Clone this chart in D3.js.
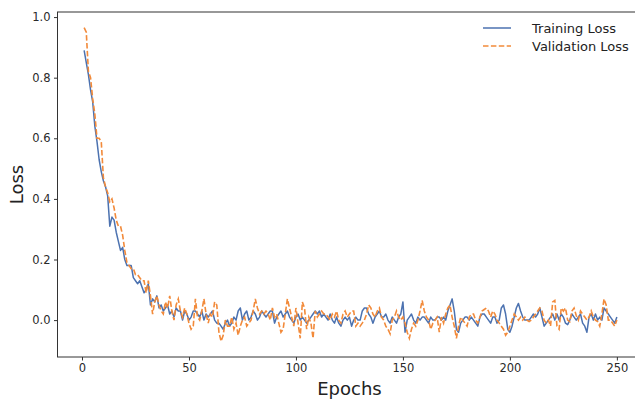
<!DOCTYPE html>
<html>
<head>
<meta charset="utf-8">
<script src="https://cdn.jsdelivr.net/npm/d3@7"></script>
<style>
  body { margin: 0; background: #fff; }
  svg { display: block; font-family: "DejaVu Sans", sans-serif; }
</style>
</head>
<body>
<svg id="drawing_region"></svg>
<script>
// values, epochs 1..250
const trainLoss = [
  .89, .85, .81, .76, .72, .64, .59, .53, .49, .46,
  .44, .41, .31, .34, .33, .29, .26, .23, .24, .20,
  .18, .18, .18, .14, .13, .12, .13, .11, .09, .10,
  .12, .05, .07, .06, .08, .04, .05, .03, .04, .05,
  .02, .03, .01, .04, .03, .03, .00, .03, .02, .00,
  .01, .03, .03, .02, .01, .03, .00, .02, .01, .02,
  .03, .00, -.01, -.01, -.02, -.03, -.01, .00, -.02, -.01,
  .01, .00, .03, .04, .00, .02, .03, .00, .01, .03,
  .02, .00, .01, .03, .02, .01, .02, .03, .03, -.01,
  .01, .02, .03, .01, .02, .03, .01, .00, -.01, .01,
  .02, .00, .01, .00, -.01, .00, .01, .02, .03, .02,
  .03, .01, .02, .01, .00, .02, .00, -.01, .01, -.01,
  -.02, .00, .01, .00, .01, -.02, .00, .01, .00, .00,
  .03, .04, .04, .02, .01, -.01, .01, .02, .03, .01,
  .01, .02, .00, -.01, .01, .00, -.01, .01, .02, .06,
  -.04, .00, .01, .02, .00, -.01, .01, .00, .01, .01,
  .00, -.01, .01, .00, .00, .01, .01, .00, .01, .00,
  .03, .05, .07, .03, -.03, -.04, -.01, .00, .01, .01,
  .00, .01, .00, -.01, -.02, .01, .02, .02, .01, .00,
  -.01, .01, .01, -.01, .00, .04, .05, .02, -.03, -.04,
  -.02, .01, .04, .055, .03, .01, .00, .00, .00, .01,
  .02, .01, .02, .04, .01, -.02, -.01, .00, .01, .02,
  .00, .02, .00, .02, .01, -.01, -.015, .00, .02, .01,
  .00, .01, .02, -.01, -.02, -.04, .01, .02, .00, .02,
  .00, .01, .00, .04, .03, .02, .01, .00, -.01, .01
];
const valLoss = [
  .965, .95, .82, .80, .73, .68, .60, .60, .59, .47,
  .44, .42, .39, .40, .37, .33, .31, .31, .28, .23,
  .19, .18, .17, .17, .15, .15, .14, .13, .13, .09,
  .13, .08, .02, .06, .08, .05, .03, .02, .06, .04,
  .08, .03, .00, .05, .07, .03, .01, .04, .02, -.01,
  -.03, -.02, .07, .01, .00, .03, .07, .02, -.01, .02,
  .01, .06, .05, -.04, -.07, -.05, .00, -.02, -.02, .01,
  -.03, -.01, -.05, -.02, .00, .01, -.02, -.01, .00, .03,
  .07, .04, .02, .03, .02, .03, .02, .00, .04, .01,
  .02, -.01, -.04, -.03, .02, .07, .04, .01, -.02, .04,
  -.01, -.06, .06, .04, -.03, .01, -.01, -.06, .03, .01,
  .02, .03, .02, .02, .01, .00, .02, .01, .03, .00,
  -.01, .02, .03, .01, .02, .03, .03, -.02, -.01, -.02,
  -.01, .00, .02, .05, .04, .02, .01, .03, .04, .01,
  .00, -.02, -.03, -.045, .00, .01, .03, .01, .00, .01,
  -.01, -.04, -.06, -.03, -.01, -.02, .00, .03, .065, .03,
  .01, .00, -.03, -.01, .00, .01, -.04, .01, -.01, .02,
  .04, .05, .01, -.02, -.06, -.02, .01, .00, -.01, -.02,
  .01, .02, .02, .00, -.01, .01, .03, .035, .04, .03,
  .01, .03, .02, .00, -.01, -.02, -.03, -.05, -.04, -.02,
  .00, .02, .01, .00, .01, .00, .01, .00, -.005, .00,
  .01, .02, .03, .04, .03, .00, -.01, .00, -.02, .06,
  .065, -.02, -.03, .04, .03, .04, .00, -.005, .03, .04,
  .015, .00, .03, .02, .01, .00, .01, .03, .01, .00,
  -.005, -.02, .02, .07, .05, .00, .00, -.01, -.02, .00
];
const epochs = trainLoss.map((d, i) => i + 1);
const xTicks = [0, 50, 100, 150, 200, 250];
const yTicks = [0.0, 0.2, 0.4, 0.6, 0.8, 1.0];
const seriesNames = ["Training Loss", "Validation Loss"];

const config = {
  width: 635,
  height: 400,
  margin: {top: 12, left: 57.5},
  innerWidth: 586,
  innerHeight: 345
};
const colors = ["#4c72b0", "#f28a3a"];
const axisColor = "#333";

const svg = d3.select("#drawing_region")
  .attr("width", config.width)
  .attr("height", config.height);

const chart = svg.append("g")
  .attr("transform", `translate(${config.margin.left}, ${config.margin.top})`);

// matplotlib style 5% margins
const xExt = d3.extent(epochs);
const xPad = (xExt[1] - xExt[0]) * 0.05;
const allY = trainLoss.concat(valLoss);
const yExt = d3.extent(allY);
const yPad = (yExt[1] - yExt[0]) * 0.05;

const x = d3.scaleLinear()
  .domain([xExt[0] - xPad, xExt[1] + xPad])
  .range([0, config.innerWidth]);
const y = d3.scaleLinear()
  .domain([yExt[0] - yPad, yExt[1] + yPad])
  .range([config.innerHeight, 0]);

const xAxis = chart.append("g")
  .attr("transform", `translate(0, ${config.innerHeight})`)
  .call(d3.axisBottom(x).tickValues(xTicks).tickSize(3.5).tickPadding(3.5).tickSizeOuter(0));
const yAxis = chart.append("g")
  .call(d3.axisLeft(y).tickValues(yTicks).tickFormat(d3.format(".1f")).tickSize(3.5).tickPadding(3.5).tickSizeOuter(0));

[xAxis, yAxis].forEach(a => {
  a.select(".domain").remove();
  a.selectAll(".tick line").attr("stroke", axisColor).attr("stroke-width", 1);
  a.selectAll(".tick text").attr("fill", "#2a2a2a").attr("font-size", 11.5)
    .attr("font-family", "DejaVu Sans, sans-serif");
});

// spines
chart.append("rect")
  .attr("x", 0).attr("y", 0)
  .attr("width", config.innerWidth).attr("height", config.innerHeight)
  .attr("fill", "none").attr("stroke", axisColor).attr("stroke-width", 1);

const line = d3.line()
  .x((d, i) => x(epochs[i]))
  .y(d => y(d));

chart.append("path")
  .attr("d", line(trainLoss))
  .attr("fill", "none")
  .attr("stroke", colors[0])
  .attr("stroke-width", 1.5)
  .attr("stroke-linejoin", "round");

chart.append("path")
  .attr("d", line(valLoss))
  .attr("fill", "none")
  .attr("stroke", colors[1])
  .attr("stroke-width", 1.6)
  .attr("stroke-dasharray", "5.5,2.4");

// axis labels
svg.append("text")
  .attr("x", config.margin.left + x(125))
  .attr("y", 395)
  .attr("text-anchor", "middle")
  .attr("font-size", 18)
  .attr("fill", "#222")
  .text("Epochs");

svg.append("text")
  .attr("transform", `translate(23, ${config.margin.top + config.innerHeight / 2}) rotate(-90)`)
  .attr("text-anchor", "middle")
  .attr("font-size", 18)
  .attr("fill", "#222")
  .text("Loss");

// legend
const legend = svg.append("g").attr("transform", "translate(483, 28)");
seriesNames.forEach((name, i) => {
  const row = legend.append("g").attr("transform", `translate(0, ${i * 18})`);
  row.append("line")
    .attr("x1", 0).attr("x2", 28).attr("y1", 0).attr("y2", 0)
    .attr("stroke", colors[i])
    .attr("stroke-width", 1.5)
    .attr("stroke-dasharray", i === 1 ? "5.5,2.4" : null);
  row.append("text")
    .attr("x", 49).attr("y", 4.5)
    .attr("font-size", 13)
    .attr("fill", "#222")
    .text(name);
});
</script>
</body>
</html>
